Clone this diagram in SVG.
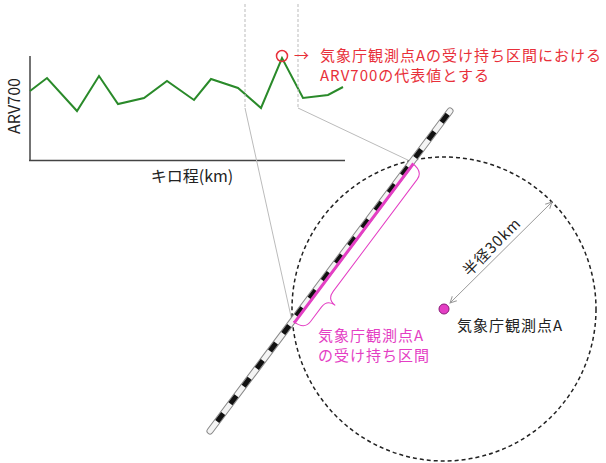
<svg xmlns="http://www.w3.org/2000/svg" width="606" height="463" viewBox="0 0 606 463">
<style>
text{font-family:"Noto Sans CJK JP","Noto Sans",sans-serif;}
.axis{stroke:#444;stroke-width:1.5;fill:none}
.guide{stroke:#bbb;stroke-width:1;fill:none}
.red{fill:#e8303a;font-size:15px;letter-spacing:1px}
.mag{fill:#e43ec4;font-size:15px;letter-spacing:1px}
.blk{fill:#222;font-size:15px;letter-spacing:1px}
</style>
<defs>
<marker id="ah" viewBox="0 0 10 10" refX="9" refY="5" markerWidth="8" markerHeight="8" orient="auto-start-reverse" markerUnits="userSpaceOnUse">
<path d="M1,1 L9,5 L1,9" fill="none" stroke="#999" stroke-width="1.2"/>
</marker>
</defs>
<rect width="606" height="463" fill="#fff"/>

<g id="chart">
<line class="axis" x1="30" y1="56" x2="30" y2="161"/>
<line class="axis" x1="29" y1="160.5" x2="345" y2="160.5"/>
<text x="13" y="106" text-anchor="middle" dominant-baseline="central" transform="rotate(-90 13 106)" style="font-size:16px;fill:#222">ARV700</text>
<text class="blk" x="192" y="182" text-anchor="middle" style="font-size:16px;letter-spacing:0">キロ程(km)</text>
<polyline points="30,91 47,78 77,111 99,76 118,104 144,98 167,81 194,100 211,79 238,88 261,108 282,58 303,98 328,95 343,87" fill="none" stroke="#2a8a2a" stroke-width="2" stroke-linejoin="miter"/>
</g>

<g id="guides">
<line class="guide" x1="245" y1="4" x2="245" y2="108" stroke-dasharray="3 2"/>
<line class="guide" x1="298" y1="4" x2="298" y2="108" stroke-dasharray="3 2"/>
<line class="guide" x1="245" y1="108" x2="292" y2="321"/>
<line class="guide" x1="298" y1="108" x2="412" y2="162"/>
</g>

<g id="peak-note">
<circle cx="282" cy="56" r="5.5" fill="none" stroke="#e8303a" stroke-width="1.5"/>
<text class="red" x="294" y="61">→</text>
<text class="red" x="320" y="61">気象庁観測点Aの受け持ち区間における</text>
<text class="red" x="320" y="81">ARV700の代表値とする</text>
</g>

<g id="circle">
<circle cx="444" cy="309" r="152" fill="none" stroke="#222" stroke-width="1.5" stroke-dasharray="4 3"/>
</g>

<g id="railway">
<line x1="450" y1="111" x2="210" y2="431" stroke="#888" stroke-width="7" stroke-linecap="round"/>
<line x1="450" y1="111" x2="210" y2="431" stroke="#f4f4f4" stroke-width="5" stroke-linecap="round"/>
<line x1="450" y1="111" x2="210" y2="431" stroke="#111" stroke-width="5" stroke-dasharray="10 12" stroke-dashoffset="-4"/>
</g>

<g id="section">
<line x1="413.2" y1="163.9" x2="294.2" y2="322.9" stroke="#e43ec4" stroke-width="3"/>
<path d="M0,0 Q0,14 10,14 L150,14 Q160,14 160,24 Q160,14 170,14 L188,14 Q198,14 198,0" fill="none" stroke="#e43ec4" stroke-width="1" transform="matrix(-0.6,0.8,0.8,0.6,412,163)"/>
<text class="mag" x="318" y="341">気象庁観測点A</text>
<text class="mag" x="318" y="361">の受け持ち区間</text>
</g>

<g id="radius">
<line x1="450" y1="303" x2="552" y2="202" stroke="#999" stroke-width="1" marker-start="url(#ah)" marker-end="url(#ah)"/>
<text class="blk" x="491" y="246" text-anchor="middle" dominant-baseline="central" transform="rotate(-45 491 246)">半径30km</text>
</g>

<g id="station">
<circle cx="444" cy="309" r="5" fill="#e43ec4" stroke="#8a1a78" stroke-width="1"/>
<text class="blk" x="457" y="331">気象庁観測点A</text>
</g>
</svg>
